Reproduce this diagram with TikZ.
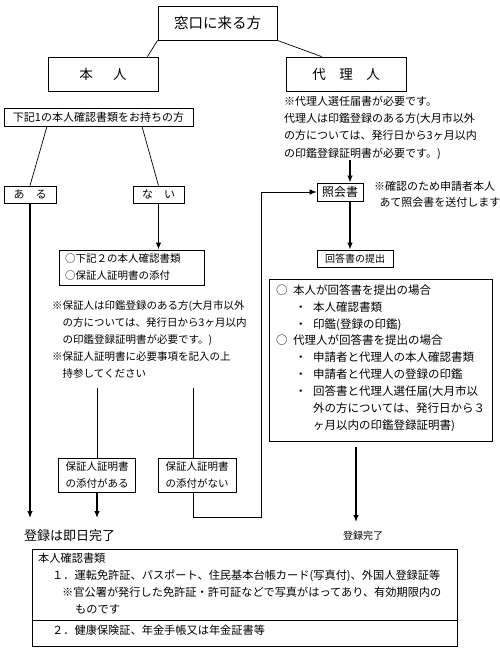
\documentclass[tikz,border=0pt]{standalone}
\usepackage{fontspec}
\setmainfont{Noto Sans CJK JP}
\usetikzlibrary{arrows.meta}
\newcommand{\fz}[2]{\fontsize{#1}{#2}\selectfont}

\begin{document}
\begin{tikzpicture}[x=1pt,y=-1pt,every node/.style={inner sep=0pt},
   box/.style={draw,line width=0.8pt},
   txt/.style={align=left,anchor=north west},
   arr/.style={-{Latex[length=7pt,width=5.5pt]},line width=1.2pt},
   thin arr/.style={-{Latex[length=7pt,width=5.5pt]},line width=0.7pt}]
  \useasboundingbox (0,0) rectangle (500,651);
  \node[box,minimum width=119pt,minimum height=34pt,font=\fz{14.5}{17}](madoguchi) at (217.5,23){窓口に来る方};
  \node[box,minimum width=110pt,minimum height=34pt,font=\fz{13.5}{17}](honnin) at (103,74){本\hspace{1.5em}人};
  \node[box,minimum width=120pt,minimum height=34pt,font=\fz{13.5}{17}](dairi) at (346,74){代\hspace{1em}理\hspace{1em}人};
  \node[txt,font=\fz{11}{17.2}](dairinote) at (284,96){※代理人選任届書が必要です。\\
    代理人は印鑑登録のある方(大月市以外\\
    の方については、発行日から3ヶ月以内\\
    の印鑑登録証明書が必要です。)};
  \node[box,minimum width=189pt,minimum height=18pt,font=\fz{11}{17}](kaki1) at (98.5,117){下記1の本人確認書類をお持ちの方};
  \node[box,minimum width=52pt,minimum height=17pt,font=\fz{11}{17}](aru) at (30,194.5){あ　る};
  \node[box,minimum width=51pt,minimum height=17pt,font=\fz{11}{17}](nai) at (158.5,194.5){な　い};
  \node[box,text width=133pt,inner xsep=6pt,minimum height=35pt,align=left,font=\fz{10.5}{17}](docs2) at (131.5,267.5){○下記２の本人確認書類\\○保証人証明書の添付};
  \node[txt,font=\fz{10.5}{17}](hoshonote) at (52,300.75){※保証人は印鑑登録のある方(大月市以外\\
    \hspace*{1em}の方については、発行日から3ヶ月以内\\
    \hspace*{1em}の印鑑登録証明書が必要です。)\\
    ※保証人証明書に必要事項を記入の上\\
    \hspace*{1em}持参してください};
  \node[box,minimum width=46pt,minimum height=18pt,font=\fz{12}{17}](shokai) at (340,192){照会書};
  \node[txt,font=\fz{11}{16}](shokainote) at (374,181.5){※確認のため申請者本人\\
    \hspace*{0.5em}あて照会書を送付します};
  \node[box,minimum width=76pt,minimum height=17pt,font=\fz{10}{17}](kaito) at (355,258.5){回答書の提出};
  \node[box,minimum width=223pt,minimum height=162pt](cases) at (380.5,360){};
  \node[txt,font=\fz{11.5}{16.9}](casetext) at (276,284.25){○\hspace{5.5pt}本人が回答書を提出の場合\\
    \hspace*{19pt}・\hspace{6.5pt}本人確認書類\\
    \hspace*{19pt}・\hspace{6.5pt}印鑑(登録の印鑑)\\
    ○\hspace{5.5pt}代理人が回答書を提出の場合\\
    \hspace*{19pt}・\hspace{6.5pt}申請者と代理人の本人確認書類\\
    \hspace*{19pt}・\hspace{6.5pt}申請者と代理人の登録の印鑑\\
    \hspace*{19pt}・\hspace{6.5pt}回答書と代理人選任届(大月市以\\
    \hspace*{37pt}外の方については、発行日から３\\
    \hspace*{37pt}ヶ月以内の印鑑登録証明書)};
  \node[box,minimum width=77pt,minimum height=34pt,align=center,font=\fz{10.5}{17}](hoshoA) at (97,475){保証人証明書\\の添付がある};
  \node[box,minimum width=78pt,minimum height=34pt,align=center,font=\fz{10.5}{17}](hoshoB) at (197,475){保証人証明書\\の添付がない};
  \node[anchor=west,font=\fz{13}{17}](sokujitsu) at (24,536){登録は即日完了};
  \node[font=\fz{10}{17}](kanryo) at (363,536){登録完了};
  \node[box,minimum width=425pt,minimum height=97pt](docs) at (244.5,597.5){};
  \node[txt,font=\fz{11.2}{17}](docstext) at (38,552.4){本人確認書類\\
    \hspace*{14pt}１．運転免許証、パスポート、住民基本台帳カード(写真付)、外国人登録証等\\
    \hspace*{24pt}※官公署が発行した免許証・許可証などで写真がはってあり、有効期限内の\\
    \hspace*{37pt}ものです};
  \node[anchor=west,font=\fz{11.2}{17}](docs2text) at (52,630){２．健康保険証、年金手帳又は年金証書等};
  \draw[line width=0.8pt](docs.west |- 0,620)--(docs.east |- 0,620);
  \coordinate (endA) at (30,518);
  \coordinate (endB) at (97,518);
  \coordinate (topB) at (97,388);
  \coordinate (topC) at (193,388);
  \coordinate (loopA) at (193,517);
  \coordinate (loopB) at (261,517);
  \coordinate (kin) at (350,160);
  \coordinate (kout) at (356,447);
  \coordinate (kend) at (356,522);
  \draw[line width=0.7pt](madoguchi.south west)--([xshift=-11pt]honnin.north east);
  \draw[line width=0.7pt](madoguchi.south east)--([xshift=36pt]dairi.north west);
  \draw[line width=0.7pt]([xshift=-51.5pt]kaki1.south)--(aru.north);
  \draw[line width=0.7pt]([xshift=43.5pt]kaki1.south)--(nai.north);
  \draw[arr](aru.south)--(endA);
  \draw[arr](nai.south)--(nai.south |- docs2.north);
  \draw[line width=0.7pt](topB)--(hoshoA.north);
  \draw[arr](hoshoA.south)--(endB);
  \draw[line width=0.7pt](topC)--(topC |- hoshoB.north);
  \draw[thin arr](topC |- hoshoB.south)--(loopA)--(loopB)--(loopB |- shokai.west)--(shokai.west);
  \draw[arr](kin)--(kin |- shokai.north);
  \draw[arr](kin |- shokai.south)--(kin |- kaito.north);
  \draw[arr](kout)--(kend);
\end{tikzpicture}
\end{document}
